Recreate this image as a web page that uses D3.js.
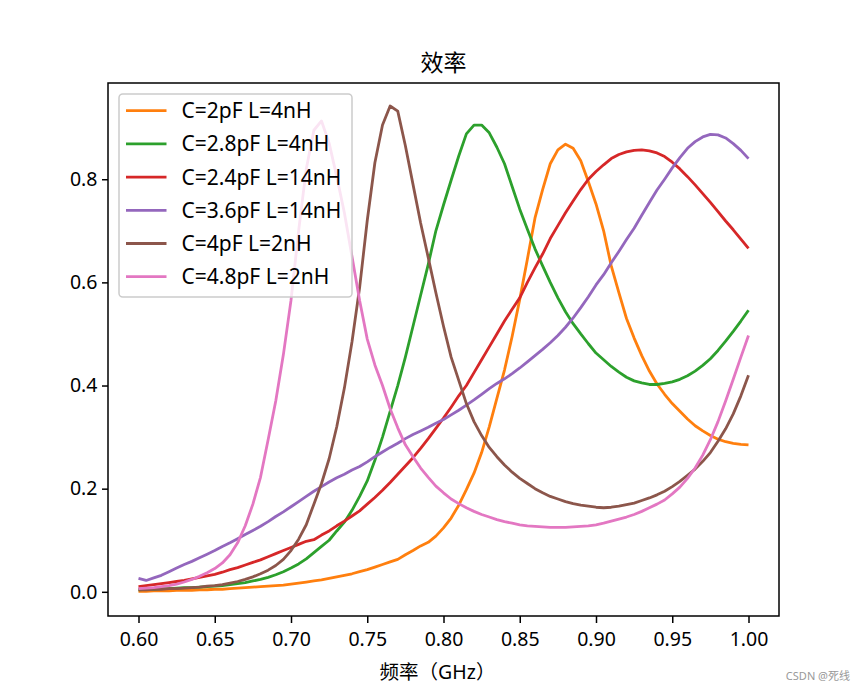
<!DOCTYPE html>
<html><head><meta charset="utf-8">
<script src="https://cdn.jsdelivr.net/npm/d3@7"></script>
<style>
html,body{margin:0;padding:0;background:#fff;}
text{font-family:"Noto Sans","Noto Sans CJK SC",sans-serif;}
</style></head>
<body><svg id="chart" width="865" height="692"></svg>
<script>
const freq = [0.600,0.605,0.610,0.615,0.620,0.625,0.630,0.635,0.640,0.645,
0.650,0.655,0.660,0.665,0.670,0.675,0.680,0.685,0.690,0.695,
0.700,0.705,0.710,0.715,0.720,0.725,0.730,0.735,0.740,0.745,
0.750,0.755,0.760,0.765,0.770,0.775,0.780,0.785,0.790,0.795,
0.800,0.805,0.810,0.815,0.820,0.825,0.830,0.835,0.840,0.845,
0.850,0.855,0.860,0.865,0.870,0.875,0.880,0.885,0.890,0.895,
0.900,0.905,0.910,0.915,0.920,0.925,0.930,0.935,0.940,0.945,
0.950,0.955,0.960,0.965,0.970,0.975,0.980,0.985,0.990,0.995,1.000];

const effC2L4 = [0.001,0.001,0.002,0.002,0.002,0.003,0.003,0.003,0.004,0.004,
0.005,0.005,0.006,0.007,0.008,0.009,0.010,0.011,0.012,0.013,
0.015,0.017,0.019,0.021,0.023,0.026,0.029,0.032,0.035,0.039,
0.043,0.048,0.053,0.058,0.063,0.072,0.080,0.089,0.096,0.108,
0.124,0.143,0.168,0.198,0.230,0.270,0.320,0.375,0.430,0.495,
0.567,0.645,0.725,0.780,0.830,0.857,0.868,0.860,0.836,0.795,
0.752,0.700,0.632,0.580,0.530,0.492,0.458,0.428,0.403,0.383,
0.365,0.350,0.335,0.322,0.312,0.303,0.296,0.291,0.288,0.286,0.285];

const effC28L4 = [0.004,0.005,0.005,0.006,0.006,0.007,0.008,0.008,0.009,0.010,
0.011,0.012,0.014,0.016,0.018,0.021,0.024,0.028,0.033,0.039,
0.046,0.054,0.064,0.076,0.088,0.100,0.118,0.135,0.158,0.185,
0.215,0.255,0.300,0.350,0.400,0.455,0.515,0.575,0.635,0.700,
0.750,0.798,0.845,0.888,0.905,0.905,0.890,0.862,0.830,0.786,
0.742,0.703,0.665,0.632,0.600,0.570,0.543,0.520,0.500,0.481,
0.463,0.450,0.437,0.426,0.416,0.409,0.405,0.402,0.402,0.404,
0.407,0.412,0.419,0.428,0.439,0.452,0.468,0.486,0.505,0.525,0.546];

const effC24L14 = [0.010,0.012,0.014,0.016,0.018,0.020,0.022,0.025,0.028,0.031,
0.034,0.038,0.043,0.047,0.052,0.057,0.062,0.068,0.074,0.080,
0.086,0.092,0.098,0.101,0.110,0.118,0.128,0.137,0.147,0.157,
0.170,0.183,0.197,0.212,0.228,0.244,0.260,0.278,0.297,0.317,
0.337,0.358,0.380,0.400,0.425,0.450,0.475,0.500,0.525,0.548,
0.570,0.600,0.628,0.655,0.685,0.710,0.735,0.758,0.780,0.800,
0.815,0.828,0.840,0.848,0.853,0.856,0.857,0.855,0.851,0.844,
0.833,0.820,0.805,0.789,0.772,0.755,0.737,0.719,0.702,0.684,0.666];

const effC36L14 = [0.026,0.022,0.027,0.032,0.039,0.046,0.053,0.059,0.066,0.073,
0.080,0.088,0.095,0.103,0.111,0.119,0.127,0.136,0.146,0.155,
0.165,0.175,0.185,0.195,0.204,0.213,0.221,0.228,0.236,0.243,
0.252,0.262,0.271,0.280,0.288,0.297,0.305,0.312,0.319,0.327,
0.334,0.343,0.352,0.362,0.372,0.383,0.394,0.404,0.413,0.423,
0.434,0.446,0.458,0.470,0.483,0.497,0.513,0.531,0.551,0.572,
0.595,0.615,0.638,0.660,0.683,0.705,0.730,0.755,0.779,0.800,
0.822,0.842,0.860,0.873,0.882,0.887,0.886,0.880,0.869,0.856,0.840];

const effC4L2 = [0.004,0.004,0.005,0.005,0.006,0.006,0.007,0.008,0.009,0.011,
0.012,0.014,0.017,0.020,0.024,0.029,0.035,0.042,0.051,0.063,
0.080,0.102,0.130,0.170,0.210,0.258,0.320,0.395,0.485,0.590,
0.720,0.832,0.905,0.942,0.932,0.865,0.790,0.715,0.648,0.580,
0.515,0.455,0.410,0.365,0.330,0.303,0.280,0.262,0.246,0.232,
0.220,0.210,0.200,0.192,0.185,0.180,0.175,0.171,0.168,0.166,
0.164,0.163,0.164,0.166,0.169,0.172,0.177,0.182,0.188,0.195,
0.204,0.214,0.226,0.238,0.253,0.270,0.292,0.316,0.345,0.380,0.420];

const effC48L2 = [0.006,0.007,0.008,0.010,0.012,0.015,0.019,0.024,0.030,0.037,
0.045,0.056,0.072,0.095,0.128,0.170,0.222,0.295,0.370,0.460,
0.565,0.700,0.820,0.895,0.913,0.870,0.805,0.735,0.650,0.565,
0.490,0.440,0.400,0.355,0.318,0.285,0.262,0.240,0.222,0.205,
0.192,0.180,0.171,0.163,0.156,0.150,0.145,0.140,0.136,0.133,
0.130,0.128,0.127,0.126,0.125,0.125,0.125,0.126,0.127,0.128,
0.130,0.133,0.137,0.141,0.145,0.150,0.156,0.163,0.170,0.178,
0.190,0.203,0.220,0.240,0.265,0.295,0.330,0.370,0.412,0.455,0.497];

const seriesLabels = ["C=2pF L=4nH","C=2.8pF L=4nH","C=2.4pF L=14nH","C=3.6pF L=14nH","C=4pF L=2nH","C=4.8pF L=2nH"];
const seriesValues = [effC2L4, effC28L4, effC24L14, effC36L14, effC4L2, effC48L2];
const seriesColors = ["#ff7f0e","#2ca02c","#d62728","#9467bd","#8c564b","#e377c2"];
const xTicks = [0.60,0.65,0.70,0.75,0.80,0.85,0.90,0.95,1.00];
const yTicks = [0.0,0.2,0.4,0.6,0.8];
const titleText = "效率";
const xLabelText = "频率（GHz）";
const watermark = "CSDN @死线";

const svg = d3.select("#chart");
const L = 108, R = 779, T = 83, B = 616;
const x = d3.scaleLinear().domain([0.58, 1.02]).range([L, R]);
const y = d3.scaleLinear().domain([-0.0469, 0.9866]).range([B, T]);

svg.append("rect").attr("width",865).attr("height",692).attr("fill","#fff");

const line = d3.line().x((d,i)=>x(freq[i])).y(d=>y(d));
seriesValues.forEach((vals,k)=>{
  svg.append("path").datum(vals).attr("d",line)
    .attr("fill","none").attr("stroke",seriesColors[k])
    .attr("stroke-width",2.8).attr("stroke-linejoin","round").attr("stroke-linecap","butt");
});

// axes
const xAxis = d3.axisBottom(x).tickValues(xTicks).tickFormat(d3.format(".2f")).tickSize(7).tickPadding(9.5);
const yAxis = d3.axisLeft(y).tickValues(yTicks).tickFormat(d3.format(".1f")).tickSize(6).tickPadding(4.5);
const gx = svg.append("g").attr("transform",`translate(0,${B})`).call(xAxis);
const gy = svg.append("g").attr("transform",`translate(${L},0)`).call(yAxis);
[gx,gy].forEach(g=>{
  g.select(".domain").remove();
  g.selectAll(".tick line").attr("stroke","#000").attr("stroke-width",1.5);
  g.selectAll(".tick text").attr("fill","#000").style("font-size","19.5px");
});
svg.append("rect").attr("x",L).attr("y",T).attr("width",R-L).attr("height",B-T)
  .attr("fill","none").attr("stroke","#000").attr("stroke-width",1.5);

// title & labels
svg.append("text").attr("x",(L+R)/2).attr("y",71).attr("text-anchor","middle")
  .style("font-size","23px").attr("fill","#000").text(titleText);
svg.append("text").attr("x",(L+R)/2 - 6).attr("y",679).attr("text-anchor","middle")
  .style("font-size","19.5px").attr("fill","#000").text(xLabelText);

// legend
const lg = svg.append("g");
lg.append("rect").attr("x",119).attr("y",94).attr("width",233).attr("height",203)
  .attr("rx",3.75).attr("fill","#fff").attr("fill-opacity",0.8)
  .attr("stroke","#cccccc").attr("stroke-width",1.5);
seriesLabels.forEach((lab,k)=>{
  const cy = 110.7 + 33.2*k;
  lg.append("line").attr("x1",126).attr("x2",166.5).attr("y1",cy).attr("y2",cy)
    .attr("stroke",seriesColors[k]).attr("stroke-width",2.8);
  lg.append("text").attr("x",181.5).attr("y",cy).attr("dy","0.36em")
    .style("font-size","21px").attr("fill","#000").text(lab);
});

svg.append("text").attr("x",850).attr("y",680).attr("text-anchor","end")
  .style("font-size","11px").attr("fill","#999").text(watermark);
</script></body></html>
